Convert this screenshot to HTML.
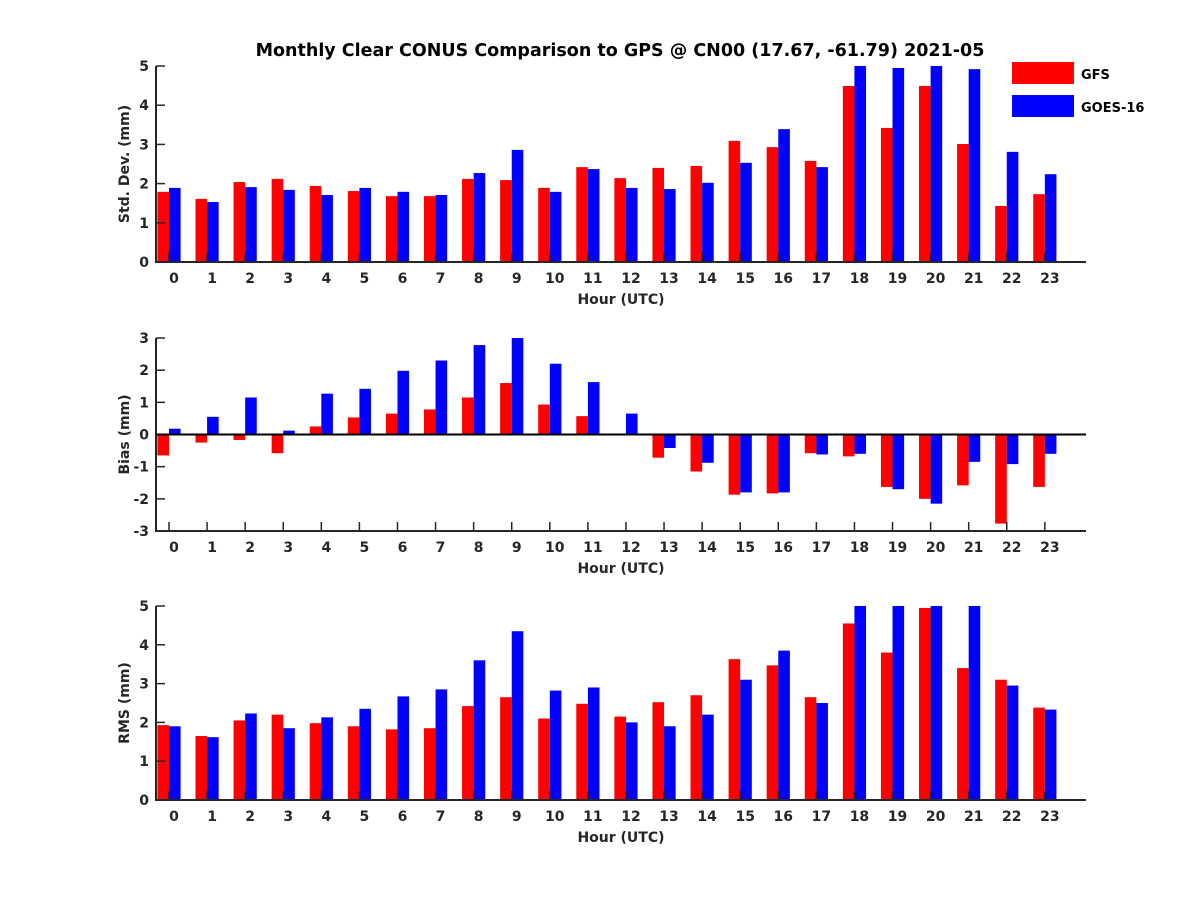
<!DOCTYPE html>
<html><head><meta charset="utf-8">
<style>
html,body{margin:0;padding:0;background:#fff;}
svg text{font-family:"DejaVu Sans","Liberation Sans",sans-serif;font-weight:bold;fill:#262626;}
</style></head>
<body>
<svg id="chart" width="1200" height="900" viewBox="0 0 1200 900">
<text x="620" y="56" text-anchor="middle" font-size="17.5" style="fill:#000">Monthly Clear CONUS Comparison to GPS @ CN00 (17.67, -61.79) 2021-05</text>
<rect x="1012" y="62" width="62" height="22" fill="#ff0000"/>
<text x="1081" y="79" font-size="13" style="fill:#000">GFS</text>
<rect x="1012" y="95" width="62" height="22" fill="#0000ff"/>
<text x="1081" y="112" font-size="13" style="fill:#000">GOES-16</text>
</svg>
<script>
const hours = [0,1,2,3,4,5,6,7,8,9,10,11,12,13,14,15,16,17,18,19,20,21,22,23];
const stdGFS = [1.79,1.61,2.04,2.12,1.94,1.81,1.68,1.68,2.12,2.09,1.89,2.42,2.14,2.40,2.45,3.09,2.93,2.58,4.49,3.42,4.49,3.01,1.43,1.73];
const stdGOES = [1.89,1.53,1.91,1.84,1.71,1.89,1.79,1.71,2.27,2.86,1.79,2.37,1.89,1.86,2.02,2.53,3.39,2.42,5.2,4.95,5.2,4.92,2.81,2.24];
const biasGFS = [-0.65,-0.25,-0.17,-0.58,0.25,0.53,0.65,0.78,1.15,1.6,0.93,0.57,0,-0.72,-1.15,-1.87,-1.83,-0.58,-0.68,-1.63,-2.0,-1.58,-2.77,-1.63];
const biasGOES = [0.18,0.55,1.15,0.12,1.27,1.42,1.98,2.3,2.78,3.0,2.2,1.63,0.65,-0.42,-0.88,-1.8,-1.8,-0.62,-0.6,-1.7,-2.15,-0.85,-0.92,-0.6];
const rmsGFS = [1.93,1.65,2.05,2.2,1.98,1.9,1.82,1.85,2.42,2.65,2.1,2.48,2.15,2.52,2.7,3.63,3.47,2.65,4.55,3.8,4.95,3.4,3.1,2.38];
const rmsGOES = [1.9,1.62,2.23,1.85,2.13,2.35,2.67,2.85,3.6,4.35,2.82,2.9,2.0,1.9,2.2,3.1,3.85,2.5,5.2,5.2,5.2,5.2,2.95,2.33];
const stdTicks = [0,1,2,3,4,5];
const biasTicks = [-3,-2,-1,0,1,2,3];
const rmsTicks = [0,1,2,3,4,5];

const NS = "http://www.w3.org/2000/svg";
const svg = document.getElementById('chart');
const X0 = 156, X1 = 1086;
function xc(h){ return 169 + h*38.08; }
function mk(tag, attrs, parent){
  const e = document.createElementNS(NS, tag);
  for (const k in attrs) e.setAttribute(k, attrs[k]);
  (parent||svg).appendChild(e);
  return e;
}
function panel(key, top, bottom, ymin, ymax, ticks, red, blue, ylabel, zeroLine){
  const g = mk('g', {});
  
  
  const y = v => bottom - (Math.max(ymin, Math.min(ymax, v)) - ymin) / (ymax - ymin) * (bottom - top);
  const bw = 11.6;
  hours.forEach((h, i) => {
    [[red[i], '#ff0000', -bw, 'gfs'], [blue[i], '#0000ff', 0, 'goes16']].forEach(([v, c, off, s]) => {
      const base = y(Math.max(ymin, 0)), yv = y(v);
      const r = mk('rect', {x: xc(h) + off, y: Math.min(base, yv), width: bw, height: Math.abs(base - yv), fill: c}, g);
      
      
    });
    const t = mk('line', {x1: xc(h), x2: xc(h), y1: bottom, y2: bottom - 9, stroke: '#262626', 'stroke-width': 1.5}, g);
    
    
    const lt = mk('text', {x: xc(h) + 5, y: bottom + 21, 'text-anchor': 'middle', 'font-size': 14}, g);
    lt.textContent = h;
    
    
  });
  ticks.forEach(v => {
    const t = mk('line', {x1: X0, x2: X0 + 9, y1: y(v), y2: y(v), stroke: '#262626', 'stroke-width': 1.5}, g);
    
    
    const lt = mk('text', {x: X0 - 7, y: y(v) + 5, 'text-anchor': 'end', 'font-size': 14}, g);
    lt.textContent = v;
    
    
  });
  const ax = mk('path', {d: `M${X0},${top} L${X0},${bottom} L${X1},${bottom}`, fill: 'none', stroke: '#262626', 'stroke-width': 2}, g);
  
  
  if (zeroLine) {
    const z = mk('line', {x1: X0, x2: X1, y1: y(0), y2: y(0), stroke: '#000', 'stroke-width': 2}, g);
    
    
  }
  const xl = mk('text', {x: 621, y: bottom + 42, 'text-anchor': 'middle', 'font-size': 14}, g);
  xl.textContent = 'Hour (UTC)';
  
  
  const cy = (top + bottom) / 2;
  const yl = mk('text', {x: 0, y: 0, 'text-anchor': 'middle', 'font-size': 14, transform: `translate(129,${cy}) rotate(-90)`}, g);
  yl.textContent = ylabel;
  
  
}
panel('std', 66, 262, 0, 5, stdTicks, stdGFS, stdGOES, 'Std. Dev. (mm)', false);
panel('bias', 338, 531, -3, 3, biasTicks, biasGFS, biasGOES, 'Bias (mm)', true);
panel('rms', 606, 800, 0, 5, rmsTicks, rmsGFS, rmsGOES, 'RMS (mm)', false);
</script>
</body></html>
